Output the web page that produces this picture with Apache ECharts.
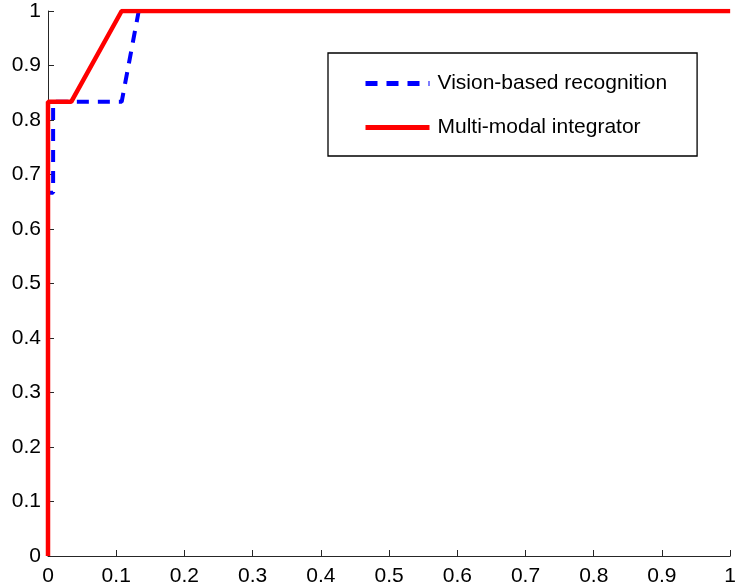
<!DOCTYPE html>
<html>
<head>
<meta charset="utf-8">
<script src="https://cdn.jsdelivr.net/npm/echarts@6/dist/echarts.min.js"></script>
<style>html,body{margin:0;padding:0;background:#fff}#c{width:739px;height:588px}</style>
</head>
<body>
<div id="c"></div>
<script>
var seriesNames = ['Vision-based recognition', 'Multi-modal integrator'];
var visionX = [0, 0, 0.0075, 0.0075, 0.108, 0.133, 1];
var visionY = [0, 0.6667, 0.6667, 0.8333, 0.8333, 1, 1];
var multiX = [0, 0, 0.034, 0.108, 1];
var multiY = [0, 0.8333, 0.8333, 1, 1];

function pairs(xs, ys) { return xs.map(function (x, i) { return [x, ys[i]]; }); }

var font = 'Liberation Sans, Arial, Helvetica, sans-serif';
var chart = echarts.init(document.getElementById('c'), null, {renderer: 'canvas'});
var axisCommon = {
  type: 'value', min: 0, max: 1, interval: 0.1,
  splitLine: {show: false},
  axisLine: {show: true, lineStyle: {color: '#262626', width: 1}},
  axisTick: {show: true, inside: true, length: 6, lineStyle: {color: '#262626'}},
  axisLabel: {color: '#000', fontSize: 21, fontFamily: font}
};
chart.setOption({
  animation: false,
  grid: {left: 48, right: 0, top: 11, bottom: 32, containLabel: false},
  xAxis: Object.assign({}, axisCommon, {axisLabel: Object.assign({}, axisCommon.axisLabel, {margin: 10})}),
  yAxis: Object.assign({}, axisCommon, {axisLabel: Object.assign({}, axisCommon.axisLabel, {margin: 7})}),
  legend: {
    orient: 'vertical', left: 328, top: 53,
    padding: [20, 30, 18, 35],
    itemGap: 23, itemWidth: 64, itemHeight: 14,
    borderColor: '#000', borderWidth: 1.3, backgroundColor: '#fff',
    itemStyle: {opacity: 0},
    lineStyle: {width: 5},
    textStyle: {fontSize: 21, color: '#000', fontFamily: font, padding: [0, 0, 0, 3]},
    data: seriesNames
  },
  series: [
    {
      name: seriesNames[0], type: 'line', data: pairs(visionX, visionY),
      showSymbol: false, symbol: 'none',
      lineStyle: {color: '#0000ff', width: 4, type: [12, 9]},
      itemStyle: {color: '#0000ff'}
    },
    {
      name: seriesNames[1], type: 'line', data: pairs(multiX, multiY),
      showSymbol: false, symbol: 'none',
      lineStyle: {color: '#ff0000', width: 4.5, type: 'solid'},
      itemStyle: {color: '#ff0000'}
    }
  ]
});
</script>
</body>
</html>
